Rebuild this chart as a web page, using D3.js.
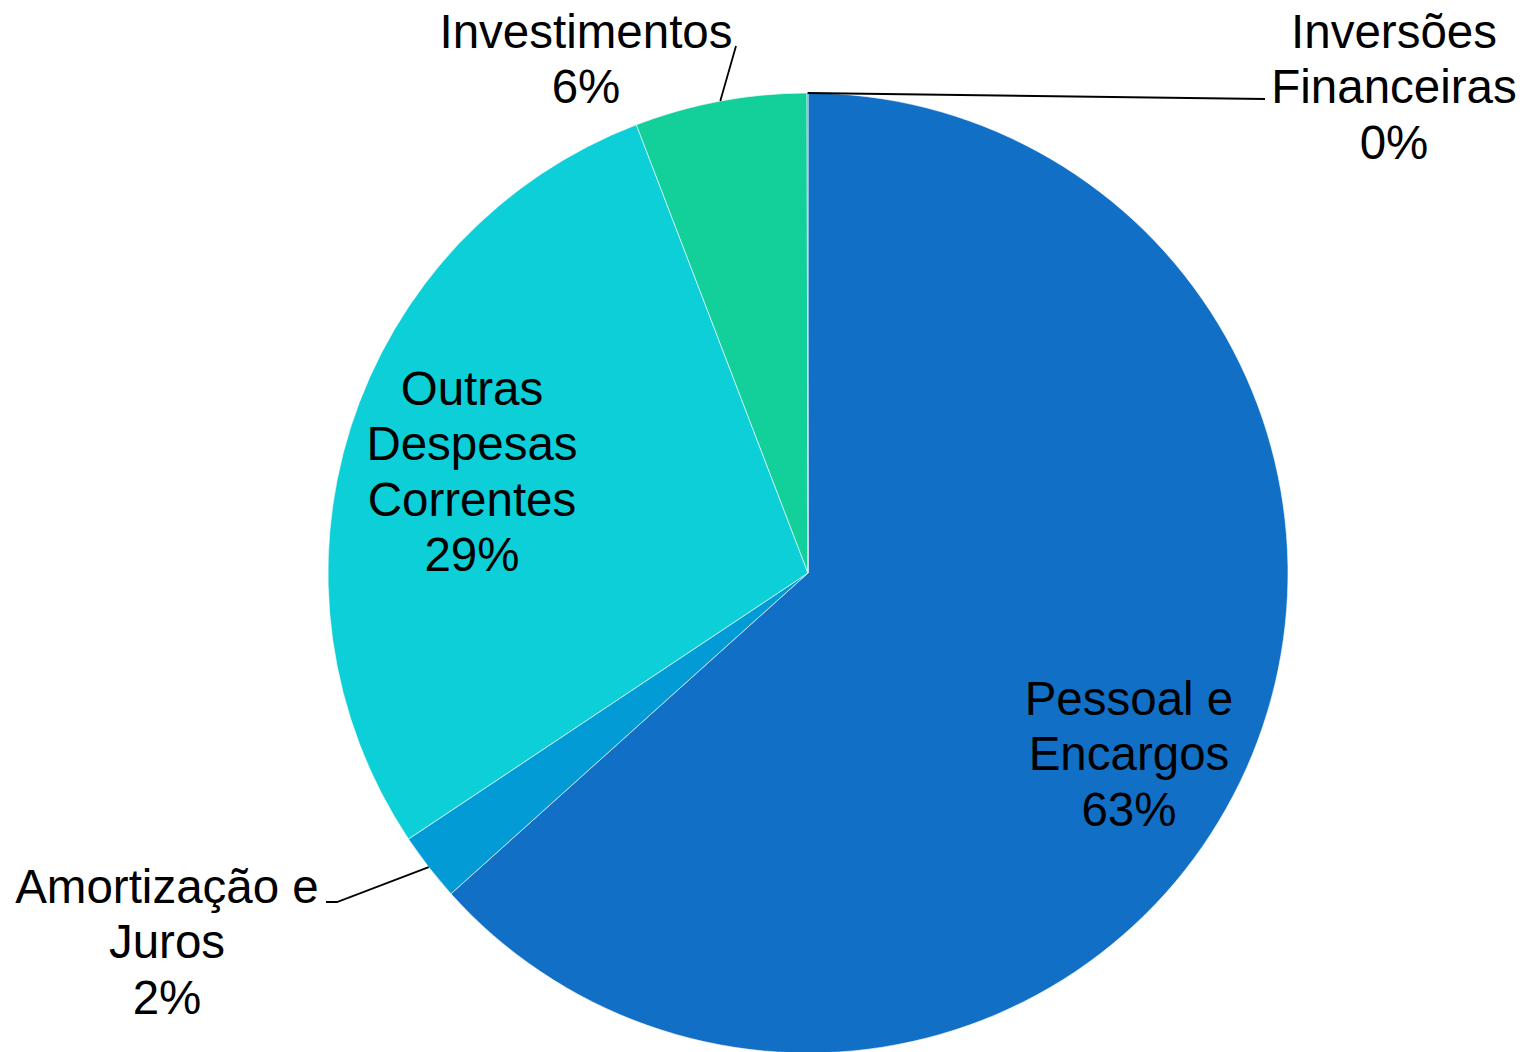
<!DOCTYPE html>
<html>
<head>
<meta charset="utf-8">
<script src="https://cdn.jsdelivr.net/npm/d3@7"></script>
<style>
  body { margin: 0; background: #fff; }
  text { font-family: "Liberation Sans", Arial, sans-serif; fill: #000; }
</style>
</head>
<body>
<div id="container"></div>
<script>
const width = 1532;
const height = 1052;

// data (share of total, %)
const categories = ["Pessoal e Encargos", "Amortização e Juros", "Outras Despesas Correntes", "Investimentos", "Inversões Financeiras"];
const values = [63.35, 2.3, 28.53, 5.79, 0.03];
const colors = ["#116fc6", "#039bd6", "#0dcfd8", "#13cf9a", "#1f4e9a"];
const labelLines = [
  ["Pessoal e", "Encargos"],
  ["Amortização e", "Juros"],
  ["Outras", "Despesas", "Correntes"],
  ["Investimentos"],
  ["Inversões", "Financeiras"]
];

// label placement (center x, first line center y) and leader line elbows
const labelPos = [
  { x: 1129, y: 698 },
  { x: 167, y: 886 },
  { x: 472, y: 388 },
  { x: 586, y: 31 },
  { x: 1394, y: 31 }
];
const leaders = [
  null,
  [[337, 902], [326, 902]],
  null,
  [[736, 46]],
  [[1265, 99]]
];

const cx = 808, cy = 573, radius = 480;
const fontSize = 47.5, lineH = 55.3;

const svg = d3.select("#container")
  .append("svg")
  .attr("width", width)
  .attr("height", height);

const total = d3.sum(values);
const data = categories.map((c, i) => ({ name: c, value: values[i], i: i }));

const pie = d3.pie()
  .value(d => d.value)
  .sort(null);

const arc = d3.arc()
  .innerRadius(0)
  .outerRadius(radius);

const arcs = pie(data);

const g = svg.append("g")
  .attr("transform", `translate(${cx},${cy})`);

g.selectAll("path")
  .data(arcs)
  .join("path")
  .attr("d", arc)
  .attr("fill", d => colors[d.data.i])
  .attr("stroke", "#ffffff")
  .attr("stroke-width", 0.6);

// leader lines from slice edge midpoint
arcs.forEach(a => {
  const pts = leaders[a.data.i];
  if (!pts) return;
  const mid = (a.startAngle + a.endAngle) / 2;
  const start = [cx + radius * Math.sin(mid), cy - radius * Math.cos(mid)];
  svg.append("path")
    .attr("d", d3.line()([start, ...pts]))
    .attr("fill", "none")
    .attr("stroke", "#000")
    .attr("stroke-width", 1.8);
});

// labels
arcs.forEach(a => {
  const i = a.data.i;
  const pct = Math.round(a.data.value / total * 100) + "%";
  const lines = labelLines[i].concat([pct]);
  const t = svg.append("text")
    .attr("text-anchor", "middle")
    .style("font-size", fontSize + "px");
  lines.forEach((l, k) => {
    t.append("tspan")
      .attr("x", labelPos[i].x)
      .attr("y", labelPos[i].y + k * lineH + 17)
      .text(l);
  });
});
</script>
</body>
</html>
